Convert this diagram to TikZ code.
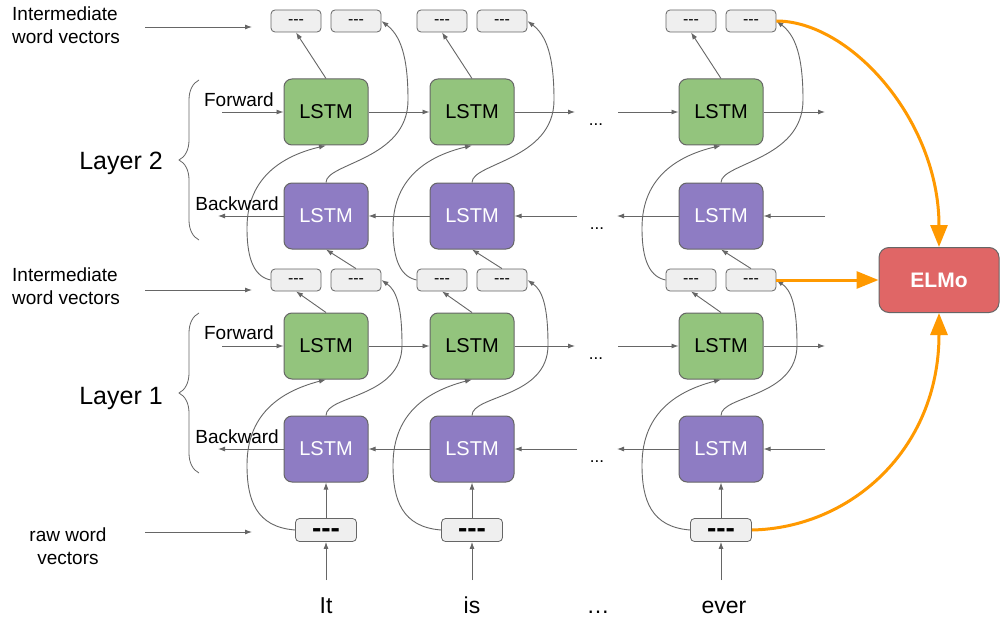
\documentclass[tikz,border=0pt]{standalone}
\usepackage{fontspec}
\setmainfont{Liberation Sans}
\usetikzlibrary{arrows.meta,decorations.pathreplacing}

\definecolor{lstmgreen}{HTML}{93C47D}
\definecolor{lstmpurple}{HTML}{8E7CC3}
\definecolor{elmored}{HTML}{E06666}
\definecolor{vecgray}{HTML}{EFEFEF}
\definecolor{edgegray}{HTML}{666666}
\definecolor{elmoorange}{HTML}{FF9900}

% three separate hyphens (kerns stop the TeX dash ligatures)
\newcommand{\vecdash}{-\kern0pt-\kern0pt-}

\begin{document}
\begin{tikzpicture}[x=1pt,y=-1pt,
  lstm/.style={draw=edgegray, line width=1pt, rounded corners=8pt,
    minimum width=84pt, minimum height=66pt, inner sep=0pt,
    font=\fontsize{20}{24}\selectfont},
  fwd/.style={lstm, fill=lstmgreen, text=black},
  bwd/.style={lstm, fill=lstmpurple, text=white},
  vec/.style={draw=edgegray, line width=0.8pt, fill=vecgray, rounded corners=4pt,
    minimum width=50pt, minimum height=22pt, inner sep=0pt,
    text height=7.5pt, text depth=0pt,
    font=\fontsize{16}{16}\selectfont},
  rawvec/.style={vec, minimum width=61pt, minimum height=23pt,
    text height=14pt, text depth=0pt,
    font=\fontsize{28}{28}\selectfont\bfseries},
  elmobox/.style={draw=edgegray, line width=1pt, fill=elmored, rounded corners=10pt,
    minimum width=120pt, minimum height=65pt, inner sep=0pt, text=white,
    font=\fontsize{21}{24}\selectfont\bfseries},
  label/.style={inner sep=0pt, font=\fontsize{19}{23}\selectfont},
  layerlabel/.style={inner sep=0pt, font=\fontsize{25}{30}\selectfont},
  word/.style={inner sep=0pt, anchor=base, font=\fontsize{23}{26}\selectfont},
  gapdots/.style={inner sep=0pt, anchor=base, font=\fontsize{17}{20}\selectfont},
  conn/.style={draw=edgegray, line width=0.9pt, -{Latex[length=7pt,width=5pt]}},
  feed/.style={draw=elmoorange, line width=3pt, -{Triangle[length=22pt,width=17pt]}},
  bracestyle/.style={draw=edgegray, line width=0.8pt, decorate,
    decoration={brace, amplitude=20pt}},
]
\useasboundingbox (0,0) rectangle (1001,623);
\fill[white] (0,0) rectangle (1001,623);

% ---- per-column blocks -------------------------------------------------
\foreach \c/\x in {1/326, 2/472, 3/721} {
  \node[fwd] (f2-\c) at (\x,112) {LSTM};
  \node[bwd] (b2-\c) at (\x,216) {LSTM};
  \node[fwd] (f1-\c) at (\x,346) {LSTM};
  \node[bwd] (b1-\c) at (\x,449) {LSTM};
  \node[vec] (tl-\c) at (\x-30,21) {\vecdash};
  \node[vec] (tr-\c) at (\x+30,21) {\vecdash};
  \node[vec] (ml-\c) at (\x-30,280) {\vecdash};
  \node[vec] (mr-\c) at (\x+30,280) {\vecdash};
  \node[rawvec] (raw-\c) at (\x,530) {\vecdash};
  \coordinate (in-\c) at (\x,580);

  % straight links
  \draw[conn] (f2-\c.north) -- (tl-\c.south);
  \draw[conn] (mr-\c.north) -- (b2-\c.south);
  \draw[conn] (f1-\c.north) -- (ml-\c.south);
  \draw[conn] (raw-\c.north) -- (b1-\c.south);
  \draw[conn] (in-\c) -- (raw-\c.south);

  % layer 2 crossings
  \draw[conn] (b2-\c.north) .. controls (\x,163) and (\x+82,160) .. (\x+82,100)
    .. controls (\x+82,55) and (\x+74,35) .. (tr-\c.east);
  \draw[conn] (ml-\c.west) .. controls (\x-75,276) and (\x-79,252) .. (\x-79,228)
    .. controls (\x-79,175) and (\x-40,155) .. (f2-\c.south);

  % layer 1 crossings
  \draw[conn] (b1-\c.north) .. controls (\x,395) and (\x+76,398) .. (\x+76,345)
    .. controls (\x+76,305) and (\x+70,290) .. (mr-\c.east);
  \draw[conn] (raw-\c.west) .. controls (\x-70,527) and (\x-79,500) .. (\x-79,465)
    .. controls (\x-79,410) and (\x-40,390) .. (f1-\c.south);
}

% ---- recurrent rows ----------------------------------------------------
\foreach \l/\yf/\yb in {2/112/216, 1/346/449} {
  \coordinate (fin-\l) at (222,\yf);
  \coordinate (fgapa-\l) at (575,\yf);
  \coordinate (fgapb-\l) at (618,\yf);
  \coordinate (fout-\l) at (825,\yf);
  \draw[conn] (fin-\l) -- (f\l-1.west);
  \draw[conn] (f\l-1.east) -- (f\l-2.west);
  \draw[conn] (f\l-2.east) -- (fgapa-\l);
  \draw[conn] (fgapb-\l) -- (f\l-3.west);
  \draw[conn] (f\l-3.east) -- (fout-\l);
  \node[gapdots] (fdots-\l) at (596,\yf+13) {...};

  \coordinate (bin-\l) at (825,\yb);
  \coordinate (bgapb-\l) at (617,\yb);
  \coordinate (bgapa-\l) at (577,\yb);
  \coordinate (bout-\l) at (218,\yb);
  \draw[conn] (bin-\l) -- (b\l-3.east);
  \draw[conn] (b\l-3.west) -- (bgapb-\l);
  \draw[conn] (bgapa-\l) -- (b\l-2.east);
  \draw[conn] (b\l-2.west) -- (b\l-1.east);
  \draw[conn] (b\l-1.west) -- (bout-\l);
  \node[gapdots] (bdots-\l) at (597,\yb+13) {...};
}

% ---- left-hand labels ----------------------------------------------------
\node[label, anchor=west, align=left] (lbl-top) at (12,25) {Intermediate\\word vectors};
\coordinate (lbl-top-start) at (145,27);
\coordinate (lbl-top-tip) at (252,27);
\draw[conn] (lbl-top-start) -- (lbl-top-tip);

\node[label, anchor=west, align=left] (lbl-mid) at (12,286) {Intermediate\\word vectors};
\coordinate (lbl-mid-start) at (145,290);
\coordinate (lbl-mid-tip) at (252,290);
\draw[conn] (lbl-mid-start) -- (lbl-mid-tip);

\node[label, align=center] (lbl-raw) at (68,546) {raw word\\vectors};
\coordinate (lbl-raw-start) at (145,532);
\coordinate (lbl-raw-tip) at (252,532);
\draw[conn] (lbl-raw-start) -- (lbl-raw-tip);

\node[layerlabel] (layer2) at (121,163) {Layer 2};
\node[layerlabel] (layer1) at (121,398) {Layer 1};
\draw[bracestyle] (199,240) -- (199,80);
\draw[bracestyle] (199,473) -- (199,313);

\node[label, anchor=east] (fwd-lbl-2) at (274,100) {Forward};
\node[label, anchor=east] (bwd-lbl-2) at (279,204) {Backward};
\node[label, anchor=east] (fwd-lbl-1) at (274,333) {Forward};
\node[label, anchor=east] (bwd-lbl-1) at (279,437) {Backward};

% ---- input words ------------------------------------------------------
\node[word] (w-1) at (326,613) {It};
\node[word] (w-2) at (472,613) {is};
\node[word] (w-dots) at (598,613) {…};
\node[word] (w-3) at (724,613) {ever};

% ---- ELMo combination ---------------------------------------------------
\node[elmobox] (elmo) at (939,280) {ELMo};
\draw[feed] (tr-3.east) .. controls (850,21) and (939,120) .. (elmo.north);
\draw[feed] (mr-3.east) -- (elmo.west);
\draw[feed] (raw-3.east) .. controls (850,528) and (939,450) .. (elmo.south);
\end{tikzpicture}
\end{document}
